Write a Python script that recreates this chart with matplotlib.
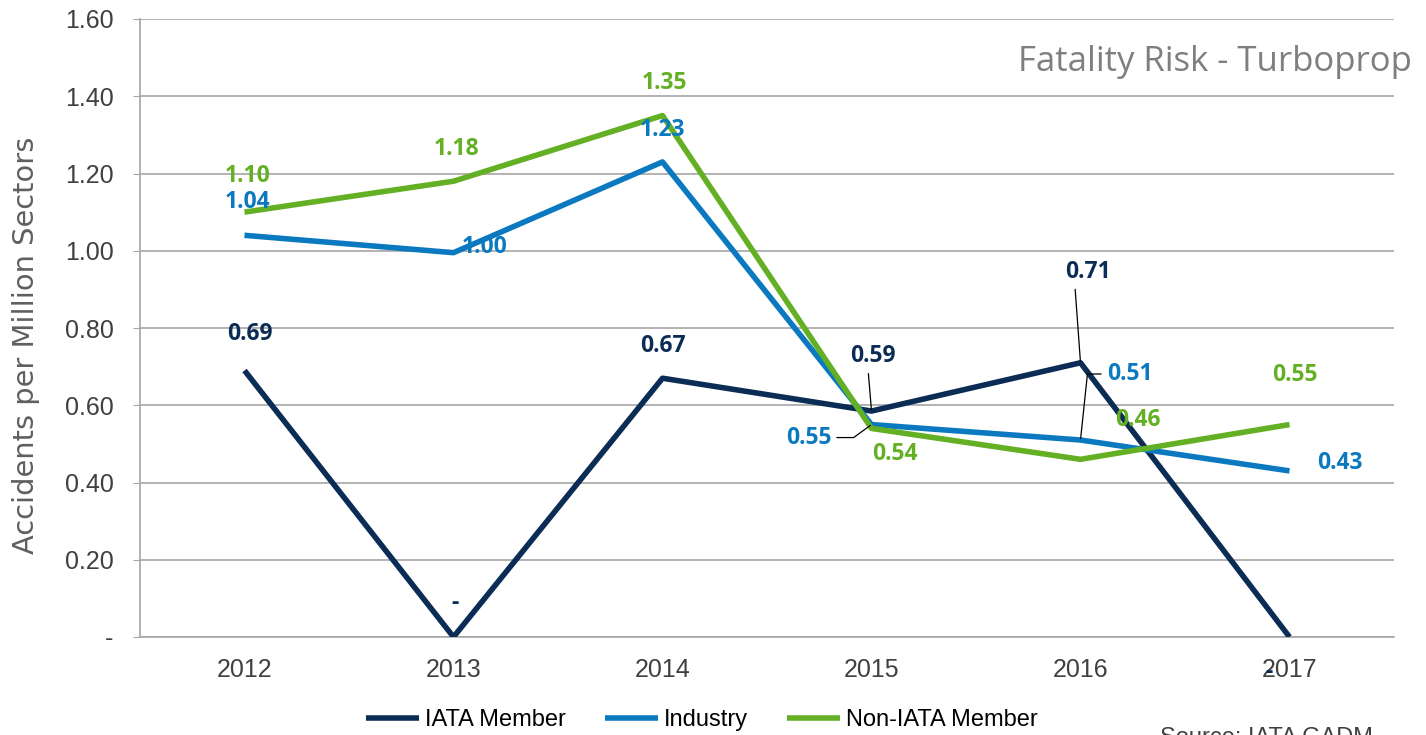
import numpy as np
import matplotlib.pyplot as plt

# data
years = ['2012', '2013', '2014', '2015', '2016', '2017']
iata_member = [0.69, 0.0, 0.67, 0.585, 0.71, 0.0]
industry = [1.04, 0.995, 1.23, 0.55, 0.51, 0.43]
non_iata = [1.10, 1.18, 1.35, 0.54, 0.46, 0.55]
iata_labels = ['0.69', '-', '0.67', '0.59', '0.71', '-']
industry_labels = ['1.04', '1.00', '1.23', '0.55', '0.51', '0.43']
non_iata_labels = ['1.10', '1.18', '1.35', '0.54', '0.46', '0.55']
yticks = [0, 0.2, 0.4, 0.6, 0.8, 1.0, 1.2, 1.4, 1.6]

# colours
c_iata = '#0b2d55'
c_ind = '#0a79c0'
c_non = '#63b024'
grid_c = '#a6a6a6'
text_c = '#404040'

# label offsets in pixels (dx, dy), dy positive = up
iata_off = [(5, 36), (2, 34), (0, 32), (1, 55), (8, 91), (-20, -35)]
ind_off = [(3, 33), (31, 6), (0, 32), (-63, -13), (49, 66), (50, 8)]
non_off = [(3, 36), (3, 32), (2, 33), (23, -26), (57, 39), (5, 50)]
# leader lines: index -> connection style / relpos
iata_lead = {3: ('arc3', (0.4, 0)), 4: ('arc3', (0.2, 0))}
ind_lead = {3: ('angle,angleA=0,angleB=-144,rad=0', (1.0, 0.5)),
            4: ('angle,angleA=180,angleB=84,rad=0', (0.0, 0.5))}

fig = plt.figure(figsize=(14.26, 7.35), dpi=100)
ax = fig.add_axes([140 / 1426, 1 - 637 / 735, 1254 / 1426, 618 / 735])

x = np.arange(len(years))
ax.plot(x, iata_member, color=c_iata, lw=4, label='IATA Member', solid_capstyle='butt', zorder=3)
ax.plot(x, industry, color=c_ind, lw=4, label='Industry', solid_capstyle='butt', zorder=3)
ax.plot(x, non_iata, color=c_non, lw=4, label='Non-IATA Member', solid_capstyle='butt', zorder=3)


def add_labels(vals, labels, offs, color, leads):
    for i, (v, lab, (dx, dy)) in enumerate(zip(vals, labels, offs)):
        kw = {}
        if i in leads:
            cs, rp = leads[i]
            kw['arrowprops'] = dict(arrowstyle='-', color='black', lw=0.9,
                                    shrinkA=2, shrinkB=1, connectionstyle=cs,
                                    relpos=rp)
        ax.annotate(lab, (i, v), xytext=(dx * 0.72, dy * 0.72),
                    textcoords='offset points', ha='center', va='center',
                    color=color, fontsize=16.5, fontweight='bold',
                    family='Open Sans', zorder=4, **kw)


add_labels(iata_member, iata_labels, iata_off, c_iata, iata_lead)
add_labels(industry, industry_labels, ind_off, c_ind, ind_lead)
add_labels(non_iata, non_iata_labels, non_off, c_non, {})

ax.set_xlim(-0.5, 5.5)
ax.set_ylim(0, 1.6)
ax.set_xticks(x)
ax.set_xticklabels(years)
ax.set_yticks(yticks)
ax.set_yticklabels(['-' if t == 0 else '%.2f' % t for t in yticks])
ax.grid(axis='y', color=grid_c, lw=1.2)
ax.set_axisbelow(True)
for s in ['top', 'right']:
    ax.spines[s].set_visible(False)
for s in ['left', 'bottom']:
    ax.spines[s].set_color(grid_c)
    ax.spines[s].set_linewidth(1.2)
ax.tick_params(axis='y', length=5, color=grid_c, pad=14, labelsize=18, labelcolor=text_c)
ax.tick_params(axis='x', length=0, pad=15, labelsize=18, labelcolor=text_c)
for lab in ax.get_xticklabels() + ax.get_yticklabels():
    lab.set_family('Liberation Sans')

# y label placed in figure coords (sits a bit lower than the axes centre)
fig.text(26 / 1426, 1 - 345 / 735, 'Accidents per Million Sectors', rotation=90,
         ha='center', va='center', fontsize=20.8, color='#5f5f5f', family='DejaVu Sans')

ax.text(1412 / 1426, 1 - 62 / 735, 'Fatality Risk - Turboprop', transform=fig.transFigure,
        ha='right', va='center', fontsize=25, color='#7f7f7f', family='Open Sans')

fig.legend(loc='center', bbox_to_anchor=(0.492, 1 - 720 / 735), ncol=3, frameon=False,
           handlelength=2.25, handletextpad=0.25, columnspacing=1.65,
           prop={'family': 'Liberation Sans', 'size': 17})

fig.text(1160 / 1426, 1 - 727 / 735, 'Source: IATA GADM', ha='left', va='top',
         fontsize=17, color='#404040', family='Liberation Sans')

fig.savefig('out.png', dpi=100)
